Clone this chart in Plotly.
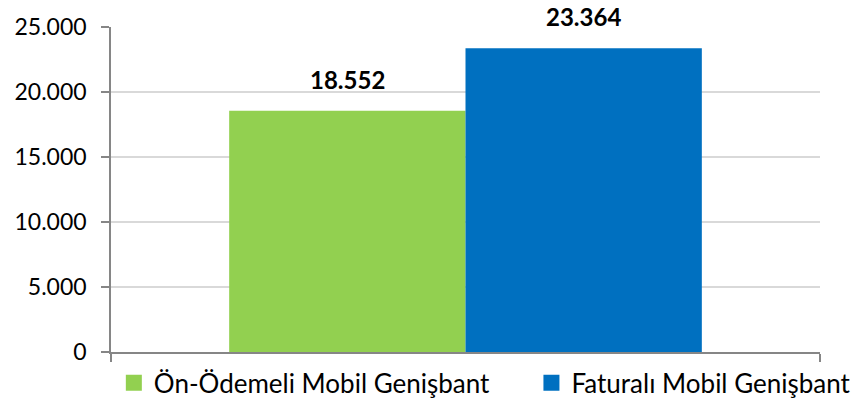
import plotly.graph_objects as go

# Subscriber counts by mobile broadband type
category = ["Mobil Genişbant"]
series_names = ["Ön-Ödemeli Mobil Genişbant", "Faturalı Mobil Genişbant"]
series_values = [18552, 23364]
series_colors = ["#92D050", "#0070C0"]
y_ticks = [0, 5000, 10000, 15000, 20000, 25000]

FONT = "Lato"
legend_ids = ["legend", "legend2"]
legend_x = [0.004, 0.593]

fig = go.Figure()
for name, val, col, lid in zip(series_names, series_values, series_colors, legend_ids):
    fig.add_trace(go.Bar(
        x=category, y=[val], name=name, showlegend=False,
        marker=dict(color=col, line=dict(width=0)),
    ))
    # legend entry with a larger square key
    fig.add_trace(go.Scatter(
        x=[None], y=[None], name=name, mode="markers", legend=lid,
        marker=dict(symbol="square", size=17, color=col),
    ))

# Bold value labels above each bar (bars sit at ±1/6 of the category width)
n = len(series_values)
group_w = 1 - 1 / 3
for i, val in enumerate(series_values):
    xpos = -group_w / 2 + group_w / n * (i + 0.5)
    fig.add_annotation(
        x=xpos, y=val, xref="x", yref="y",
        text="<b>" + f"{val:,}".replace(",", ".") + "</b>",
        showarrow=False, yanchor="bottom", yshift=15,
        font=dict(family=FONT, size=24, color="#000000"),
    )

legend_style = dict(
    orientation="h", xanchor="left", y=-0.095, yanchor="middle",
    font=dict(family=FONT, size=26, color="#000000"),
    itemwidth=30, itemsizing="trace", bgcolor="rgba(0,0,0,0)",
)

fig.update_layout(
    width=865, height=401,
    margin=dict(l=111, r=45, t=27, b=49, autoexpand=False),
    paper_bgcolor="white", plot_bgcolor="white",
    barmode="group", bargap=1 / 3, bargroupgap=0,
    separators=",.",
    font=dict(family=FONT, size=23, color="#000000"),
    showlegend=True,
    legend=dict(x=legend_x[0], **legend_style),
    legend2=dict(x=legend_x[1], **legend_style),
    xaxis=dict(
        type="category", showticklabels=False,
        showline=True, linecolor="#868686", linewidth=1.5,
        ticks="outside", tickson="boundaries", ticklen=8,
        tickcolor="#868686", tickwidth=1.5, showgrid=False,
        range=[-0.5, 0.5],
    ),
    yaxis=dict(
        range=[0, 25000], tickvals=y_ticks, tickformat=",d",
        showline=True, linecolor="#868686", linewidth=1.5,
        ticks="outside", ticklen=8, tickcolor="#868686", tickwidth=1.5,
        ticklabelstandoff=10,
        showgrid=True, gridcolor="#D9D9D9", gridwidth=1.5,
        zeroline=False, tickfont=dict(family=FONT, size=23, color="#000000"),
    ),
)

fig.write_html("out.html")
